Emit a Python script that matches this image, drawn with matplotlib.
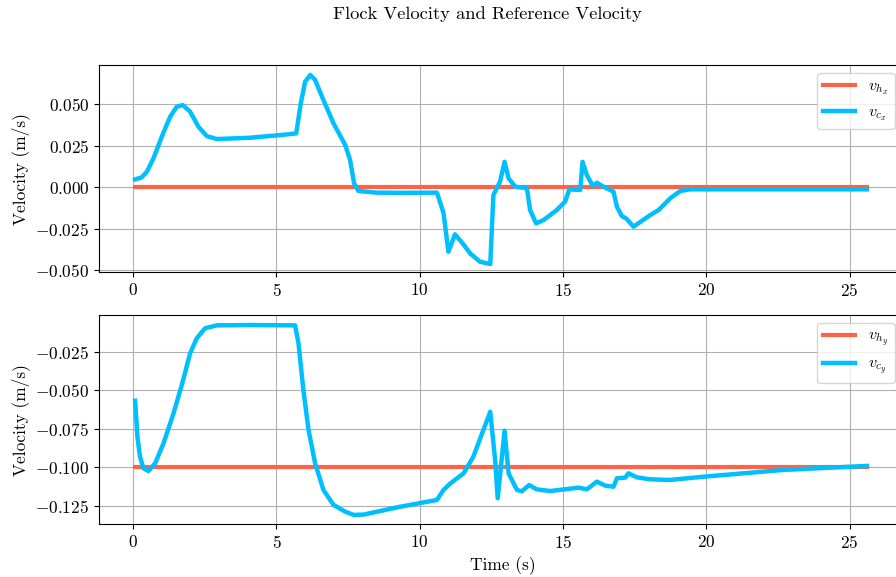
import numpy as np
from matplotlib import pyplot as plt

plt.rcParams['font.family'] = 'serif'
plt.rcParams['font.serif'] = ['cmr10']
plt.rcParams['mathtext.fontset'] = 'cm'
plt.rcParams['axes.formatter.use_mathtext'] = True
plt.rcParams['font.size'] = 12.5

# flock velocity, x component
t_cx = [0.07, 0.3, 0.48, 0.71, 1.0, 1.29, 1.52, 1.73, 1.99, 2.28, 2.57, 2.92, 4.08, 5.13, 5.69,
        5.85, 6.0, 6.18, 6.35, 6.64, 6.99, 7.4, 7.57, 7.71, 7.86, 8.5, 9.5, 10.6, 10.83, 11.0,
        11.23, 11.5, 11.76, 12.1, 12.46, 12.57, 12.8, 12.96, 13.1, 13.33, 13.74, 13.85, 14.06,
        14.32, 14.78, 15.07, 15.22, 15.6, 15.68, 15.83, 16.04, 16.18, 16.41, 16.76, 16.88, 17.05,
        17.2, 17.46, 18.04, 18.33, 18.74, 19.09, 19.43, 22.0, 25.6]
v_cx = [0.0046, 0.0058, 0.0092, 0.0173, 0.0303, 0.0423, 0.0483, 0.0494, 0.0454, 0.0363, 0.0307,
        0.0289, 0.0297, 0.0313, 0.0323, 0.0504, 0.0634, 0.0675, 0.0645, 0.0524, 0.0384, 0.0253,
        0.0163, 0.0022, -0.0024, -0.0034, -0.0035, -0.0034, -0.0157, -0.039, -0.0285, -0.034,
        -0.040, -0.045, -0.0464, -0.0048, 0.0032, 0.0152, 0.0052, 0.0002, -0.0008, -0.0139,
        -0.0219, -0.0199, -0.0139, -0.0088, -0.0014, -0.0018, 0.0152, 0.0072, 0.0006, 0.0026,
        0.0002, -0.0028, -0.0119, -0.0175, -0.0189, -0.0239, -0.0169, -0.0139, -0.0068, -0.0024,
        -0.0014, -0.0014, -0.0014]

# flock velocity, y component
t_cy = [0.07, 0.15, 0.24, 0.36, 0.53, 0.77, 1.06, 1.41, 1.7, 1.99, 2.22, 2.51, 2.92, 4.08, 5.65,
        5.77, 5.94, 6.12, 6.35, 6.64, 6.99, 7.4, 7.69, 8.04, 9.32, 10.6, 10.83, 11.06, 11.53,
        11.87, 12.46, 12.63, 12.72, 12.96, 13.1, 13.39, 13.56, 13.82, 14.08, 14.55, 15.54, 15.83,
        16.18, 16.47, 16.76, 16.88, 17.17, 17.28, 17.57, 18.04, 18.74, 19.9, 22.69, 25.6]
v_cy = [-0.0566, -0.080, -0.093, -0.1005, -0.1023, -0.0973, -0.0843, -0.0648, -0.0464, -0.0258,
        -0.0161, -0.0096, -0.0077, -0.0075, -0.0077, -0.0194, -0.0497, -0.0756, -0.0973, -0.1146,
        -0.1243, -0.1287, -0.1308, -0.1306, -0.1255, -0.1211, -0.1146, -0.1105, -0.1038, -0.093,
        -0.0638, -0.0951, -0.12, -0.0761, -0.1038, -0.1146, -0.1155, -0.1114, -0.1142, -0.1153,
        -0.1131, -0.1142, -0.1092, -0.1118, -0.1125, -0.107, -0.1066, -0.1038, -0.1064, -0.1077,
        -0.1081, -0.106, -0.1016, -0.099]

# reference velocity
t_ref = [0.07, 25.6]
v_hx = [0.0, 0.0]
v_hy = [-0.1, -0.1]

red = '#ff6347'
blue = '#00bfff'

fig = plt.figure(figsize=(8.96, 5.77), dpi=100)
ax1 = fig.add_axes((0.1105, 0.5286, 0.9005, 0.3587))
ax2 = fig.add_axes((0.1105, 0.0919, 0.9005, 0.3621))

ax1.plot(t_ref, v_hx, color=red, linewidth=3, label=r'$v_{h_x}$')
ax1.plot(t_cx, v_cx, color=blue, linewidth=3.2, label=r'$v_{c_x}$', solid_joinstyle='round')
ax2.plot(t_ref, v_hy, color=red, linewidth=3, label=r'$v_{h_y}$')
ax2.plot(t_cy, v_cy, color=blue, linewidth=3.2, label=r'$v_{c_y}$', solid_joinstyle='round')

ax1.set_ylim(-0.0512, 0.0735)
ax2.set_ylim(-0.1367, -0.001)
ax1.set_yticks([-0.05, -0.025, 0.0, 0.025, 0.05])
ax2.set_yticks([-0.125, -0.1, -0.075, -0.05, -0.025])

for ax in (ax1, ax2):
    ax.set_xlim(-1.19, 26.96)
    ax.set_xticks([0, 5, 10, 15, 20, 25])
    ax.grid(True)
    ax.set_ylabel('Velocity (m/s)')

ax1.legend(loc='upper right', bbox_to_anchor=(0.9985, 0.8735), bbox_transform=fig.transFigure,
           fontsize=11.5, borderaxespad=0)
ax2.legend(loc='upper right', bbox_to_anchor=(0.9985, 0.44), bbox_transform=fig.transFigure,
           fontsize=11.5, borderaxespad=0)
ax2.set_xlabel('Time (s)')
fig.suptitle('Flock Velocity and Reference Velocity', x=0.5435, y=0.99, fontsize=13.3)

fig.savefig('out.png', dpi=100)
